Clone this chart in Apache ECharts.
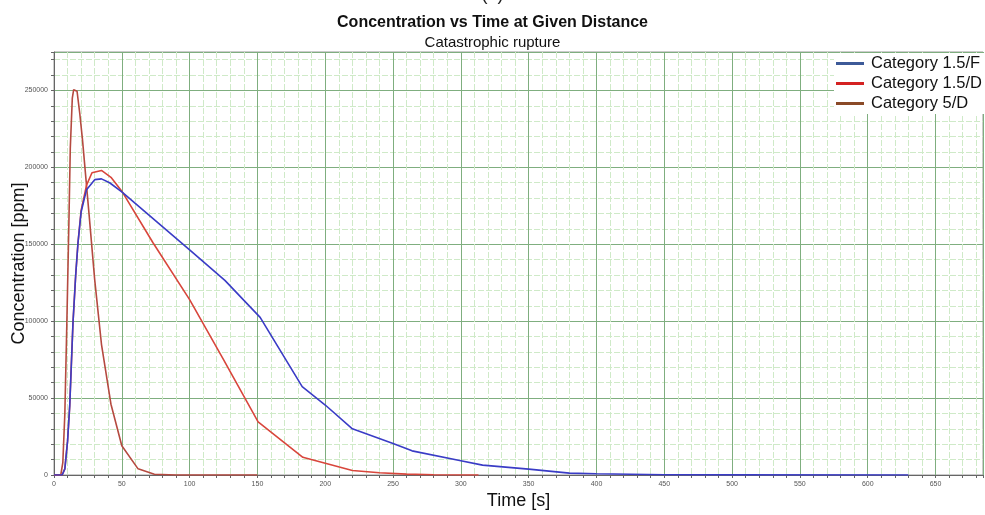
<!DOCTYPE html>
<html>
<head>
<meta charset="utf-8">
<script src="https://cdn.jsdelivr.net/npm/echarts@6/dist/echarts.min.js"></script>
<style>html,body{margin:0;padding:0;background:#fff}#c{width:985px;height:515px}</style>
</head>
<body>
<div id="c"></div>
<script>
const seriesNames = ['Category 1.5/F', 'Category 1.5/D', 'Category 5/D'];
const xTickLabels = [0, 50, 100, 150, 200, 250, 300, 350, 400, 450, 500, 550, 600, 650];
const yTickLabels = [0, 50000, 100000, 150000, 200000, 250000];

const time15F = [0, 6, 8, 10, 11.6, 14, 16, 17.7, 20, 24, 30, 35, 41, 50, 100, 126, 152, 183, 200, 220, 250, 264, 300, 316, 350, 380, 400, 450, 500, 630];
const conc15F = [0, 0, 4000, 22000, 45000, 99000, 130000, 151000, 171000, 185500, 192000, 192500, 190000, 184000, 146400, 126500, 102500, 57500, 45500, 30000, 20500, 15700, 9300, 6400, 3800, 1200, 800, 200, 50, 0];

const time15D = [0, 6, 8, 10, 11.6, 14, 16, 17.7, 20, 24, 28, 35, 42, 50, 73, 100, 125, 150.5, 183.5, 220, 240, 260, 280, 313];
const conc15D = [0, 0, 4000, 22000, 45000, 99000, 130000, 151000, 172000, 188500, 196500, 198000, 193500, 184500, 151000, 114000, 75000, 34500, 11500, 2900, 1500, 600, 200, 0];

const time5D = [0, 5, 6.5, 8, 9.5, 11, 12, 13.5, 14.5, 17, 19, 21, 26, 30, 35, 42, 50, 62, 74, 90, 150];
const conc5D = [0, 0, 8000, 40000, 100000, 165000, 212000, 245000, 250500, 249500, 235000, 218000, 168000, 127000, 85000, 46000, 19000, 4000, 500, 0, 0];

const zip = (xs, ys) => xs.map((x, i) => [x, ys[i]]);

const lineColors = ['#3a3cc6', '#d8463c', '#b54a40'];
const legendColors = ['#3d5a98', '#d42222', '#8a4a28'];

const chart = echarts.init(document.getElementById('c'), null, {renderer: 'canvas'});
const font = '"Liberation Sans", Arial, sans-serif';

chart.setOption({
  animation: false,
  backgroundColor: '#fff',
  title: [
    {text: '(a)', left: 'center', top: -19, textStyle: {fontFamily: font, fontSize: 18, fontWeight: 'normal', color: '#222'}},
    {text: 'Concentration vs Time at Given Distance', left: 'center', top: 10, textStyle: {fontFamily: font, fontSize: 16, fontWeight: 'bold', color: '#111'}},
    {text: 'Catastrophic rupture', left: 'center', top: 30, textStyle: {fontFamily: font, fontSize: 15, fontWeight: 'normal', color: '#111'}}
  ],
  legend: {
    orient: 'vertical',
    left: 834,
    top: 53,
    itemWidth: 28,
    itemHeight: 14,
    itemGap: 3,
    backgroundColor: '#fff',
    padding: [2, 4, 2, 2],
    textStyle: {fontFamily: font, fontSize: 16.5, color: '#111', padding: [0, 0, 0, 2]},
    data: seriesNames.map((n, i) => ({name: n, icon: 'path://M0,6 L28,6 L28,9 L0,9 Z', itemStyle: {color: legendColors[i]}}))
  },
  grid: {left: 54, right: 2, top: 52, bottom: 40, outerBoundsMode: 'none', containLabel: false,
    show: true, borderColor: '#999', borderWidth: 1, backgroundColor: 'transparent'},
  xAxis: {
    type: 'value',
    min: 0, max: 685, interval: 50,
    name: 'Time [s]', nameLocation: 'middle', nameGap: 17, nameMoveOverlap: false,
    nameTextStyle: {fontFamily: font, fontSize: 18, color: '#111'},
    axisLine: {show: true, onZero: false, lineStyle: {color: '#666', width: 1}},
    axisTick: {show: true, length: 3, lineStyle: {color: '#666'}},
    minorTick: {show: true, splitNumber: 5, length: 3, lineStyle: {color: '#666'}},
    axisLabel: {fontFamily: font, fontSize: 7, color: '#555', margin: 6, showMaxLabel: false,
      formatter: v => xTickLabels.includes(v) ? String(v) : ''},
    splitLine: {show: true, lineStyle: {color: '#7fae7f', width: 1}},
    minorSplitLine: {show: true, lineStyle: {color: '#cfeac8', width: 1, type: [6, 2]}}
  },
  yAxis: {
    type: 'value',
    min: 0, max: 275000, interval: 50000,
    name: 'Concentration [ppm]', nameLocation: 'middle', nameGap: 26, nameRotate: 90, nameMoveOverlap: false,
    nameTextStyle: {fontFamily: font, fontSize: 18, color: '#111'},
    axisLine: {show: true, lineStyle: {color: '#666', width: 1}},
    axisTick: {show: true, length: 3, lineStyle: {color: '#666'}},
    minorTick: {show: true, splitNumber: 5, length: 3, lineStyle: {color: '#666'}},
    axisLabel: {fontFamily: font, fontSize: 7, color: '#555', margin: 6, showMaxLabel: false,
      formatter: v => yTickLabels.includes(v) ? String(v) : ''},
    splitLine: {show: true, lineStyle: {color: '#7fae7f', width: 1}},
    minorSplitLine: {show: true, lineStyle: {color: '#cfeac8', width: 1, type: [6, 2]}}
  },
  series: [
    {name: seriesNames[0], type: 'line', data: zip(time15F, conc15F), showSymbol: false, symbol: 'none', z: 3,
     lineStyle: {color: lineColors[0], width: 1.6}, itemStyle: {color: lineColors[0]}},
    {name: seriesNames[1], type: 'line', data: zip(time15D, conc15D), showSymbol: false, symbol: 'none', z: 2,
     lineStyle: {color: lineColors[1], width: 1.6}, itemStyle: {color: lineColors[1]}},
    {name: seriesNames[2], type: 'line', data: zip(time5D, conc5D), showSymbol: false, symbol: 'none', z: 1,
     lineStyle: {color: lineColors[2], width: 1.6}, itemStyle: {color: lineColors[2]}}
  ]
});
</script>
</body>
</html>
